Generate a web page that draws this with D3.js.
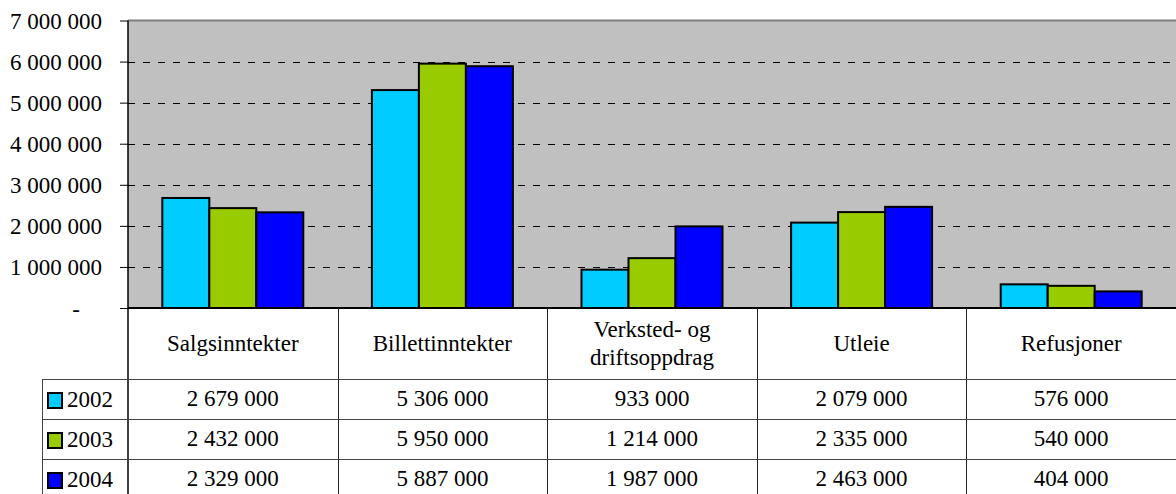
<!DOCTYPE html>
<meta charset="utf-8">
<style>
body{ margin:0; background:#fff; }
svg text{ font-family:"Liberation Serif","Tinos","Times New Roman","Nimbus Roman","DejaVu Serif",serif; font-size:23px; fill:#000; }
</style>
<body>
<div id="chart"></div>
<script src="https://d3js.org/d3.v7.min.js"></script>
<script>
// inntekter per kategori, 2002-2004
var categories = ["Salgsinntekter", "Billettinntekter", "Verksted- og driftsoppdrag", "Utleie", "Refusjoner"];
var catLines = [["Salgsinntekter"], ["Billettinntekter"], ["Verksted- og", "driftsoppdrag"], ["Utleie"], ["Refusjoner"]];
var years = ["2002", "2003", "2004"];
var v2002 = [2679000, 5306000, 933000, 2079000, 576000];
var v2003 = [2432000, 5950000, 1214000, 2335000, 540000];
var v2004 = [2329000, 5887000, 1987000, 2463000, 404000];
var yTicks = [0, 1000000, 2000000, 3000000, 4000000, 5000000, 6000000, 7000000];
var colors = ["#00CCFF", "#99CC00", "#0000FF"];

var series = [v2002, v2003, v2004];
var W = 1176, H = 494;
var left = 128, right = 1176, plotTop = 20.5, base = 308;
var rowH = 40, headBottom = 379, legLeft = 42;

var svg = d3.select("#chart").append("svg").attr("width", W).attr("height", H);

var y = d3.scaleLinear().domain([0, 7000000]).range([base, plotTop]);
var x0 = d3.scaleBand().domain(categories).range([left, right]);
var x1 = d3.scaleBand().domain(years).range([0, x0.bandwidth()]).paddingOuter(0.73);
var color = d3.scaleOrdinal().domain(years).range(colors);
var fmt = function(v){ return d3.format(",")(v).replace(/,/g, " "); };

// plot area
svg.append("rect").attr("x", left).attr("y", plotTop).attr("width", right-left).attr("height", base-plotTop)
	.attr("fill", "#C0C0C0");
svg.append("line").attr("x1", left).attr("x2", right).attr("y1", plotTop).attr("y2", plotTop)
	.attr("stroke", "#808080").attr("stroke-width", 2);

svg.selectAll(".grid").data(yTicks.slice(1, -1)).enter().append("line").attr("class", "grid")
	.attr("x1", left).attr("x2", right)
	.attr("y1", function(d){ return Math.round(y(d))+0.5; })
	.attr("y2", function(d){ return Math.round(y(d))+0.5; })
	.attr("stroke", "#000").attr("stroke-width", 1).attr("stroke-dasharray", "7,8");

// bars
var groups = svg.selectAll(".grp").data(categories).enter().append("g").attr("class", "grp")
	.attr("transform", function(d){ return "translate(" + x0(d) + ",0)"; });
groups.selectAll("rect").data(function(d, i){
		return years.map(function(yr, j){ return {year: yr, value: series[j][i]}; });
	}).enter().append("rect")
	.attr("x", function(d){ return x1(d.year); })
	.attr("y", function(d){ return y(d.value); })
	.attr("width", x1.bandwidth())
	.attr("height", function(d){ return base - y(d.value); })
	.attr("fill", function(d){ return color(d.year); })
	.attr("stroke", "#000").attr("stroke-width", 2);

// y axis
var yAxis = d3.axisLeft(y).tickValues(yTicks).tickSize(8).tickPadding(18)
	.tickFormat(function(d){ return d === 0 ? "-" : fmt(d); });
var ya = svg.append("g").attr("transform", "translate(" + left + ",0)").call(yAxis)
	.attr("font-family", null).attr("font-size", null);
ya.select(".domain").remove();
ya.selectAll(".tick line").attr("stroke", "#000");
ya.selectAll(".tick text").attr("dy", "0.35em")
	.attr("x", function(d){ return d === 0 ? -48 : -26; });

// table
var tbl = svg.append("g");
tbl.append("line").attr("x1", left).attr("x2", left).attr("y1", plotTop).attr("y2", H)
	.attr("stroke", "#000").attr("stroke-width", 1.5);
tbl.append("line").attr("x1", left).attr("x2", right).attr("y1", base).attr("y2", base)
	.attr("stroke", "#000").attr("stroke-width", 2);
tbl.selectAll(".vsep").data(categories.slice(1)).enter().append("line").attr("class", "vsep")
	.attr("x1", function(d){ return Math.round(x0(d))+0.5; })
	.attr("x2", function(d){ return Math.round(x0(d))+0.5; })
	.attr("y1", base).attr("y2", H).attr("stroke", "#222").attr("stroke-width", 1);
tbl.selectAll(".hsep").data(years).enter().append("line").attr("class", "hsep")
	.attr("x1", legLeft).attr("x2", right)
	.attr("y1", function(d, i){ return headBottom + i*rowH + 0.5; })
	.attr("y2", function(d, i){ return headBottom + i*rowH + 0.5; })
	.attr("stroke", "#444").attr("stroke-width", 1);
tbl.append("line").attr("x1", legLeft+0.5).attr("x2", legLeft+0.5).attr("y1", headBottom).attr("y2", H)
	.attr("stroke", "#444").attr("stroke-width", 1);

// header labels
var hd = tbl.selectAll(".hd").data(catLines).enter().append("text").attr("class", "hd")
	.attr("text-anchor", "middle")
	.attr("transform", function(d, i){
		var cy = (base + headBottom)/2 + 7 - (d.length-1)*14;
		return "translate(" + (x0(categories[i]) + x0.bandwidth()/2) + "," + cy + ")";
	});
hd.selectAll("tspan").data(function(d){ return d; }).enter().append("tspan")
	.attr("x", 0).attr("dy", function(d, i){ return i === 0 ? 0 : 28; })
	.text(function(d){ return d; });

// rows
var rows = tbl.selectAll(".row").data(years).enter().append("g").attr("class", "row")
	.attr("transform", function(d, i){ return "translate(0," + (headBottom + i*rowH) + ")"; });
rows.append("rect").attr("x", 48).attr("y", 14).attr("width", 14).attr("height", 15)
	.attr("fill", function(d){ return color(d); }).attr("stroke", "#000").attr("stroke-width", 2);
rows.append("text").attr("x", 67).attr("y", rowH/2 + 8).text(function(d){ return d; });
rows.selectAll(".val").data(function(d, j){ return series[j]; }).enter().append("text").attr("class", "val")
	.attr("text-anchor", "middle")
	.attr("x", function(d, i){ return x0(categories[i]) + x0.bandwidth()/2; })
	.attr("y", rowH/2 + 7)
	.text(function(d){ return fmt(d); });
</script>
</body>
